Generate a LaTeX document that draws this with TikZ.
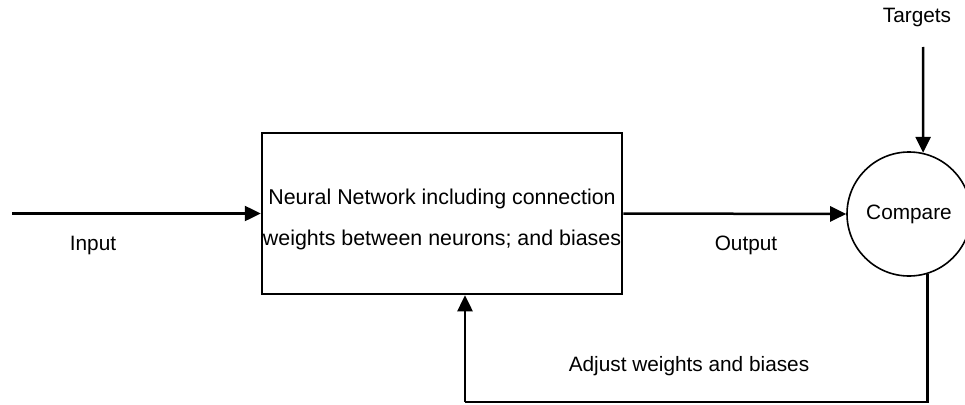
\documentclass[tikz,border=0pt]{standalone}
\usepackage{fontspec}
\setmainfont{Liberation Sans}
\usetikzlibrary{arrows.meta,calc}
\begin{document}
\begin{tikzpicture}[x=1pt,y=-1pt,
  lbl/.style={font=\fontsize{20.8}{25}\selectfont, inner sep=0pt},
  arr/.style={line width=2.5pt,-{Triangle[length=16pt,width=15pt]}},
  ln/.style={line width=2.5pt}]
\useasboundingbox (0,0) rectangle (965,404);
\node[draw, line width=2.5pt, minimum width=360pt, minimum height=161pt, inner sep=0pt] (nn) at (442,213.5) {};
\node[inner sep=0pt, align=center, font=\fontsize{21.4}{41}\selectfont] (nntxt) at ($(nn.center)+(0,6)$)
  {Neural Network including connection\\weights between neurons; and biases};
\node[draw, circle, line width=1.6pt, minimum size=124pt, inner sep=0pt, lbl] (cmp) at (909,214) {Compare};
\node[lbl] (tg) at (917,18) {Targets};
\node[lbl] (inl) at (93,245) {Input};
\node[lbl] (outl) at (746,245) {Output};
\node[lbl] (adj) at (689,366) {Adjust weights and biases};
\coordinate (in) at (12,213.5);
\coordinate (tgtop) at (923,47);
\coordinate (fbL) at (465,402);
\draw[arr] (in) -- (nn.west);
\draw[arr] (nn.east) -- (cmp.west);
\draw[arr] (tgtop) -- (cmp.77);
\draw[ln] (cmp.-73) |- (fbL);
\draw[arr] (fbL) -- (fbL |- nn.south);
\end{tikzpicture}
\end{document}
